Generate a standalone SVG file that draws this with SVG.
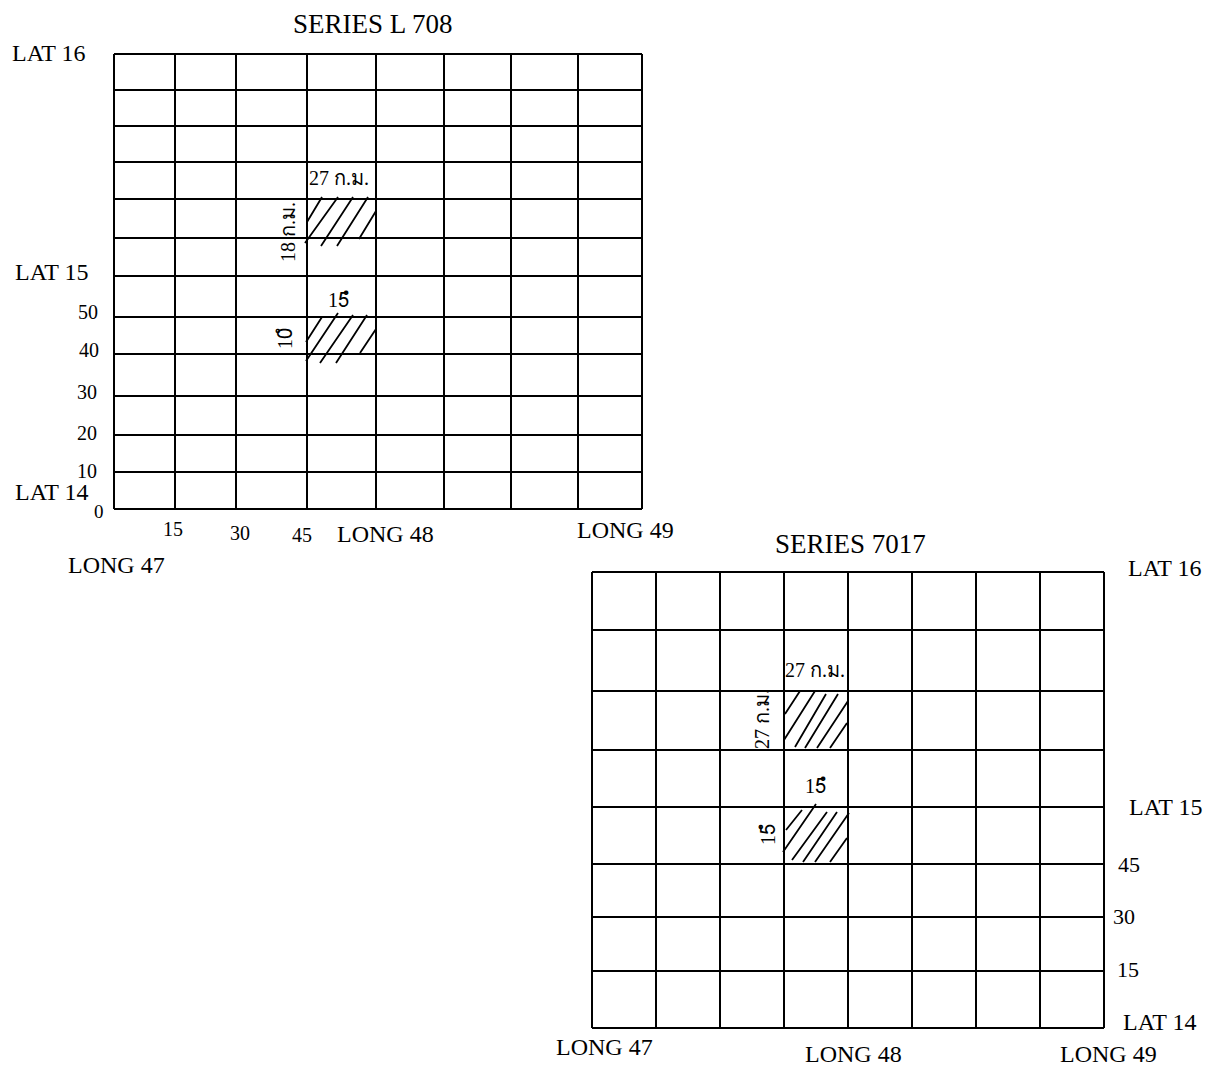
<svg xmlns="http://www.w3.org/2000/svg" width="1223" height="1068" viewBox="0 0 1223 1068">
<style>
.grid{fill:none;stroke:#000;stroke-width:2}
.hatch{fill:none;stroke:#000;stroke-width:1.8;stroke-linecap:butt}
text{font-family:"Liberation Serif","DejaVu Serif",serif;fill:#000}
.t{font-size:27px}
.l{font-size:24px}
.n{font-size:20px}
.m{font-size:22px}
</style>
<rect width="1223" height="1068" fill="#fff"/>
<g id="chart-l708">
<g id="grid-l708" class="grid">
<path d="M114 54V509M175 54V509M236 54V509M307 54V509M376 54V509M444 54V509M511 54V509M578 54V509M642 54V509"/>
<path d="M114 54H642M114 90H642M114 126H642M114 162H642M114 199H642M114 238H642M114 276H642M114 317H642M114 354H642M114 396H642M114 435H642M114 472H642M114 509H642"/>
</g>
<g id="hatch-l708-a" class="hatch">
<path d="M307 222L322 197M305 243L338 197M321 246L353 197M337 246L368 197M359 239L376 211"/>
</g>
<g id="hatch-l708-b" class="hatch">
<path d="M306 342L322 317M306 361L338 313M320 363L353 315M336 363L367 315M360 353L376 329"/>
</g>
<text class="t" x="293" y="33">SERIES L 708</text>
<text class="l" x="12" y="61">LAT 16</text>
<text class="l" x="15" y="280">LAT 15</text>
<text class="n" x="78" y="319">50</text>
<text class="n" x="79" y="357">40</text>
<text class="n" x="77" y="399">30</text>
<text class="n" x="77" y="440">20</text>
<text class="n" x="77" y="478">10</text>
<text class="l" x="15" y="500">LAT 14</text>
<text class="n" x="94" y="518" style="font-size:19px">0</text>
<text class="n" x="163" y="536">15</text>
<text class="n" x="230" y="540">30</text>
<text class="n" x="292" y="542">45</text>
<text class="l" x="337" y="542">LONG 48</text>
<text class="l" x="577" y="538">LONG 49</text>
<text class="l" x="68" y="573">LONG 47</text>
<text class="n" x="309" y="185">27 ก.ม.</text>
<text class="n" transform="translate(295 262) rotate(-90)">18 ก.ม.</text>
<text class="n" x="328" y="307">15ํ</text>
<text class="n" transform="translate(292 349) rotate(-90)">10ํ</text>
</g>
<g id="chart-7017">
<g id="grid-7017" class="grid">
<path d="M592 572V1028M656 572V1028M720 572V1028M784 572V1028M848 572V1028M912 572V1028M976 572V1028M1040 572V1028M1104 572V1028"/>
<path d="M592 572H1104M592 630H1104M592 691H1104M592 750H1104M592 807H1104M592 864H1104M592 917H1104M592 971H1104M592 1028H1104"/>
</g>
<g id="hatch-7017-a" class="hatch">
<path d="M785 714L800 691M784 740L815 691M795 747L826 694M805 748L838 694M817 748L848 701M830 748L847 723"/>
</g>
<g id="hatch-7017-b" class="hatch">
<path d="M786 830L802 810M783 852L816 804M792 860L827 812M803 862L837 812M815 862L849 813M830 862L847 838"/>
</g>
<text class="t" x="775" y="553">SERIES 7017</text>
<text class="l" x="1128" y="576">LAT 16</text>
<text class="l" x="1129" y="815">LAT 15</text>
<text class="m" x="1118" y="872">45</text>
<text class="m" x="1113" y="924">30</text>
<text class="m" x="1117" y="977">15</text>
<text class="l" x="1123" y="1030">LAT 14</text>
<text class="l" x="556" y="1055">LONG 47</text>
<text class="l" x="805" y="1062">LONG 48</text>
<text class="l" x="1060" y="1062">LONG 49</text>
<text class="n" x="785" y="677">27 ก.ม.</text>
<text class="n" transform="translate(769 749) rotate(-90)">27 ก.ม.</text>
<text class="n" x="805" y="793">15ํ</text>
<text class="n" transform="translate(775 845) rotate(-90)">15ํ</text>
</g>
</svg>
